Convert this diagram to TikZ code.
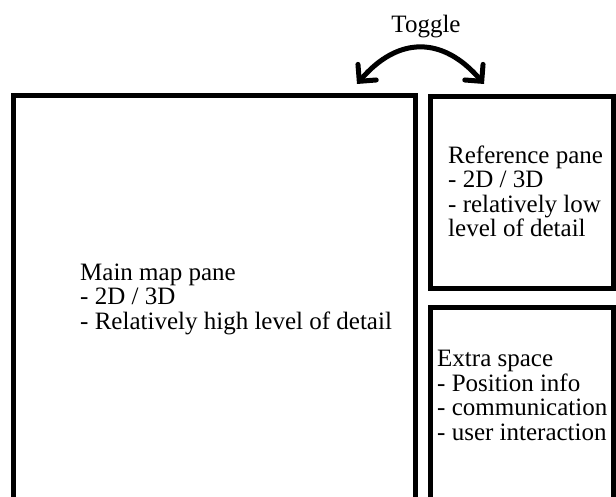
\documentclass[tikz,border=0pt]{standalone}
\usepackage{fontspec}
\setmainfont{Liberation Serif}
\usetikzlibrary{arrows.meta}
\tikzset{
  pane/.style={line width=5pt},
  panetext/.style={anchor=base west, align=left, inner sep=0pt, font=\fontsize{25}{24.5}\selectfont},
  toggle/.style={line width=5pt, {Straight Barb[angle=90:17pt, line cap=round]}-{Straight Barb[angle=90:17pt, line cap=round]}}
}
\begin{document}
\begin{tikzpicture}[x=1pt, y=-1pt]
\useasboundingbox (0,0) rectangle (616,497);
\clip (0,0) rectangle (616,497);

%Panes
\draw[pane] (13.5,96) rectangle (415.5,540);
\draw[pane] (430.5,96.5) rectangle (613.5,288);
\draw[pane] (430.5,307) rectangle (613.5,540);

%Pane texts (anchored at the baseline of the last line)
\node[panetext] (maintext) at (80,329) {Main map pane\\- 2D / 3D\\- Relatively high level of detail};
\node[panetext] (reftext) at (448,237) {Reference pane\\- 2D / 3D\\- relatively low\\level of detail};
\node[panetext] (extratext) at (437,440) {Extra space\\- Position info\\- communication\\- user interaction};

%Toggle arrow
\node[panetext, anchor=base] (toggle) at (426,33) {Toggle};
\coordinate (lefttip) at (357,84);
\coordinate (righttip) at (484,84);
\draw[toggle] (lefttip) .. controls (398,36) and (443,36) .. (righttip);
\end{tikzpicture}
\end{document}
